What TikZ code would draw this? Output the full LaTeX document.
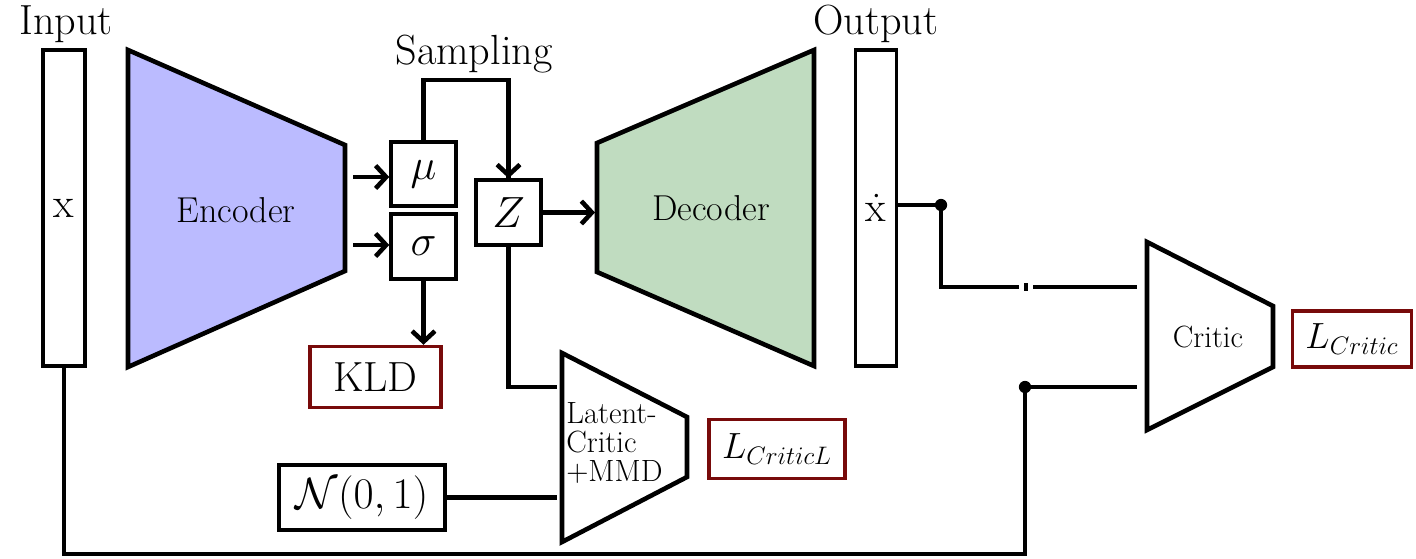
\documentclass[tikz,border=0pt]{standalone}
\usetikzlibrary{arrows.meta}
\definecolor{encfill}{RGB}{187,187,255}
\definecolor{decfill}{RGB}{192,220,192}
\definecolor{lossred}{RGB}{120,10,10}
\tikzset{
  wire/.style={line width=2.6pt},
  arr/.style={line width=2.6pt, -{Straight Barb[length=6pt,width=13pt,line width=2.6pt]}},
  blk/.style={draw, line width=2.6pt, line join=miter},
  vbox/.style={draw, line width=2pt, inner sep=0pt},
  lossbox/.style={draw=lossred, line width=2pt, inner sep=0pt},
  big/.style={font=\fontsize{24}{28}\selectfont},
  mid/.style={font=\fontsize{20.5}{24}\selectfont},
  lossf/.style={font=\fontsize{19.5}{23}\selectfont},
  jdot/.style={circle, fill, inner sep=0pt, minimum size=7pt}
}
\begin{document}
\begin{tikzpicture}[x=0.02cm, y=-0.02cm]
\useasboundingbox (0,0) rectangle (1416,558);
% input / output bars
\node[vbox, minimum width=0.84cm, minimum height=6.32cm, big] (inp) at (64,208) {x};
\node[big] (inlbl) at (66,24) {Input};
\node[vbox, minimum width=0.82cm, minimum height=6.32cm, big] (out) at (876,208) {\.{x}};
\node[big] (outlbl) at (876,24) {Output};
% encoder
\draw[blk, fill=encfill] (128,50) -- (345,145) -- (345,271) -- (128,367) -- cycle;
\node[mid] (enc) at (236,210) {Encoder};
\coordinate (encA) at (353,177);
\coordinate (encB) at (353,245);
% decoder
\draw[blk, fill=decfill] (597,143) -- (814,50) -- (814,366) -- (597,272) -- cycle;
\node[mid] (dec) at (711,208) {Decoder};
\coordinate (decin) at (595,210);
% latent boxes
\node[vbox, minimum width=1.3cm, minimum height=1.28cm, big] (mu) at (423.5,174) {$\mu$};
\node[vbox, minimum width=1.3cm, minimum height=1.3cm, big] (sig) at (423.5,246.5) {$\sigma$};
\node[vbox, minimum width=1.3cm, minimum height=1.3cm, big] (z) at (508.5,212.5) {$Z$};
\node[big] (samp) at (474,54) {Sampling};
\node[lossbox, minimum width=2.62cm, minimum height=1.22cm, big] (kld) at (375.5,377) {KLD};
% arrows
\draw[arr] (encA) -- (encA -| mu.west);
\draw[arr] (encB) -- (encB -| sig.west);
\draw[wire] (mu.north) -- (mu.north |- 0,80) -| (z.north);
\draw[arr] (z.north |- 0,80) -- (z.north);
\draw[arr] (sig.south) -- (sig.south |- kld.north);
\draw[arr] (z.east) -- (z.east -| decin);
% latent critic
\draw[blk] (562,353) -- (687,417) -- (687,477) -- (562,542) -- cycle;
\node[font=\fontsize{17.5}{16.5}\selectfont, align=left, anchor=west, inner sep=0pt] (lat) at (566,443) {Latent-\\Critic\\+MMD};
\coordinate (lin1) at (557,387);
\coordinate (lin2) at (557,499);
\node[lossbox, minimum width=2.72cm, minimum height=1.18cm, lossf] (lcl) at (777,449) {$L_{CriticL}$};
\node[vbox, minimum width=3.32cm, minimum height=1.3cm, big] (nrm) at (362,497.5) {$\mathcal{N}(0,1)$};
\draw[wire] (z.south) |- (lin1);
\draw[wire] (nrm.east) -- (nrm.east -| lin2);
% critic
\draw[blk] (1147,242) -- (1273,306) -- (1273,367) -- (1147,430) -- cycle;
\node[font=\fontsize{17.5}{21}\selectfont] (crit) at (1208,337) {Critic};
\coordinate (cin1) at (1137,287);
\coordinate (cin2) at (1137,387);
\node[lossbox, minimum width=2.38cm, minimum height=1.12cm, lossf] (lc) at (1352,339) {$L_{Critic}$};
% output to critic
\node[jdot] (d1) at (941,205) {};
\draw[wire] (out.east |- d1) -- (d1.center);
\coordinate (g1) at (1019,287);
\coordinate (g2) at (1033,287);
\draw[wire] (d1.center) |- (g1);
\draw[line width=1.8pt] (1026,283) -- (1026,291);
\draw[wire] (g2) -- (cin1);
% input to critic
\node[jdot] (d2) at (1025,387) {};
\draw[wire] (inp.south) |- (1025,554) -- (d2.center);
\draw[wire] (d2.center) -- (cin2);
\end{tikzpicture}
\end{document}
